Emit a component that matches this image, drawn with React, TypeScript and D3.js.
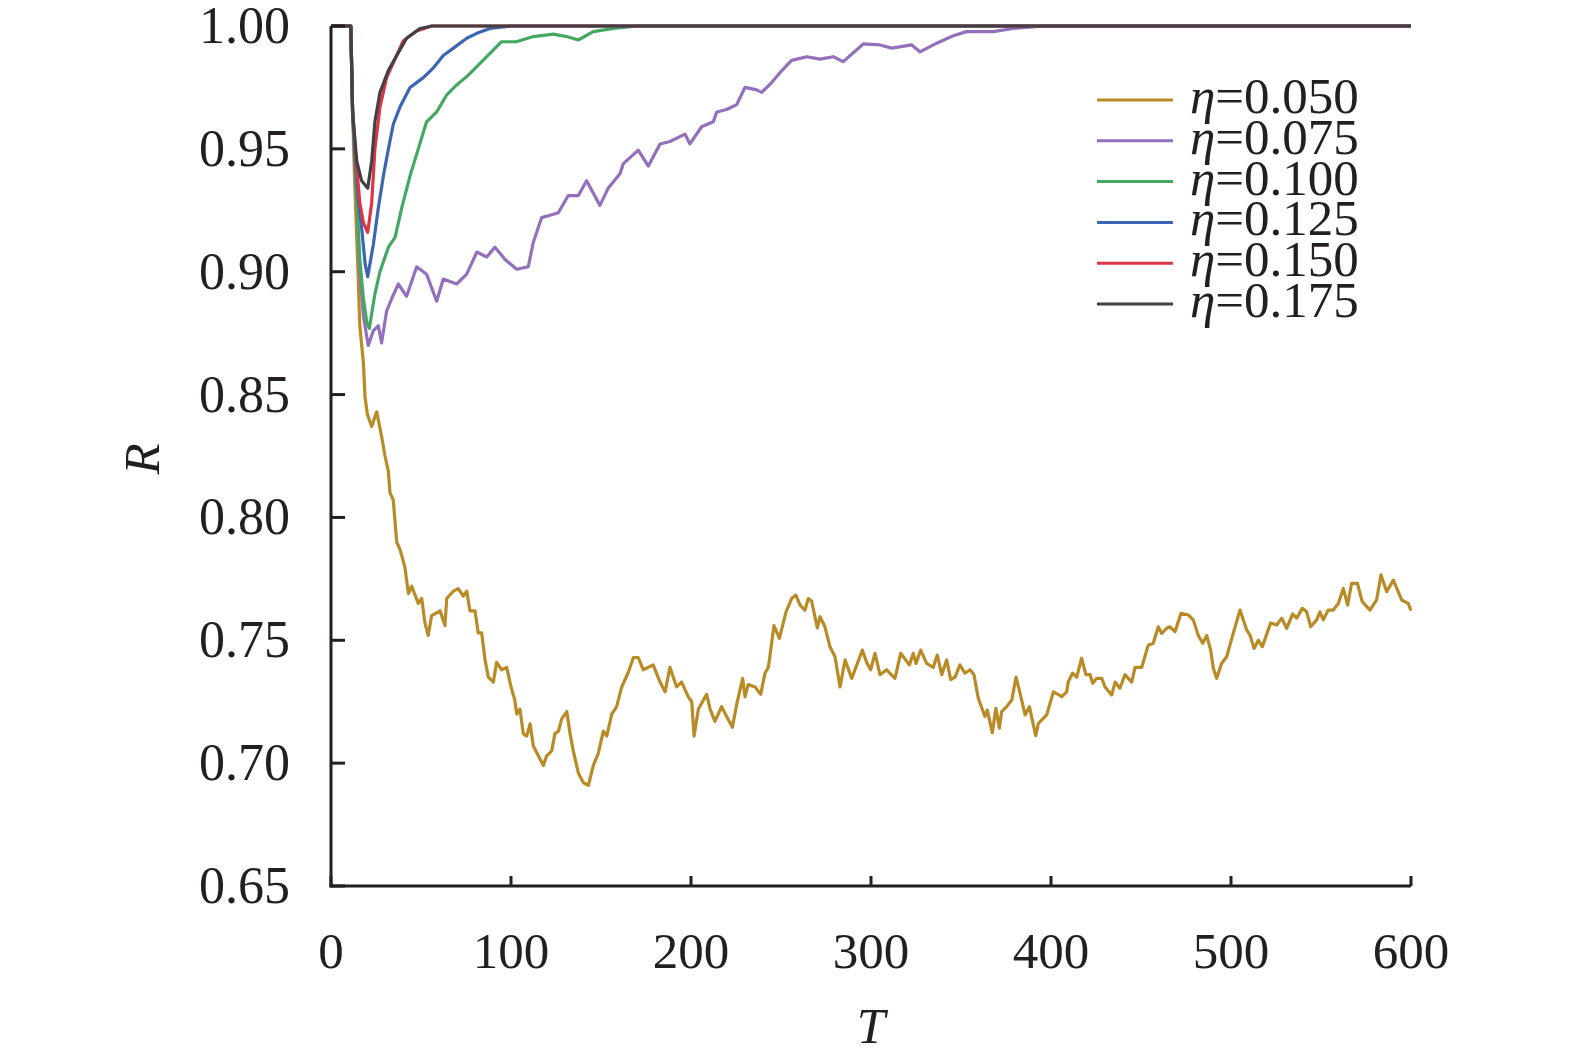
import React from "react";
import * as d3 from "d3";

type Pt = [number, number];

// T, R pairs
const eta050: Pt[] = [
  [0, 1], [11, 1], [12, 0.965], [13, 0.94], [14, 0.92], [15, 0.9], [16, 0.878], [18, 0.863],
  [18.9, 0.849], [20.2, 0.842], [22.6, 0.837], [25.4, 0.843], [28.1, 0.833], [30, 0.825],
  [31.8, 0.819], [32.8, 0.81], [34.6, 0.807], [36.5, 0.79], [38.3, 0.787], [41, 0.78],
  [43, 0.769], [44.8, 0.772], [48.5, 0.765], [50.4, 0.767], [52.2, 0.757], [54, 0.752],
  [55.9, 0.76], [60.6, 0.762], [63.3, 0.756], [64.3, 0.767], [68, 0.77], [70.7, 0.771],
  [73.5, 0.768], [75.4, 0.77], [77.2, 0.762], [80, 0.762], [81.8, 0.753], [83.7, 0.753],
  [85.6, 0.742], [87.4, 0.735], [90.2, 0.733], [92, 0.741], [94.8, 0.738], [97.6, 0.739],
  [99.4, 0.733], [100.4, 0.73], [102, 0.726], [103.2, 0.72], [105, 0.722], [106.8, 0.712],
  [108.7, 0.711], [110.6, 0.716], [112.4, 0.707], [115.2, 0.703], [118, 0.699], [119.8, 0.703],
  [122.6, 0.705], [124.4, 0.712], [126.3, 0.713], [128.2, 0.718], [131, 0.721], [132.8, 0.712],
  [134.6, 0.705], [137.4, 0.696], [140.2, 0.692], [143, 0.691], [145.7, 0.699], [148.5, 0.704],
  [151.3, 0.713], [153.2, 0.711], [156, 0.72], [158.7, 0.723], [161.5, 0.731], [165.2, 0.737],
  [168, 0.743], [170.7, 0.743], [173.5, 0.738], [179, 0.74], [182.8, 0.733], [185.6, 0.729],
  [188.3, 0.739], [192, 0.731], [194.8, 0.733], [198.5, 0.727], [200.4, 0.725], [201.7, 0.711],
  [204.1, 0.722], [208.7, 0.728], [210.6, 0.722], [213.3, 0.717], [217, 0.723], [219.8, 0.719],
  [223, 0.7146], [225.4, 0.724], [228.7, 0.7345], [230, 0.727], [231.8, 0.732], [235.6, 0.731],
  [238.7, 0.728], [241.1, 0.7366], [243, 0.739], [246.1, 0.756], [249.1, 0.7508], [252.8, 0.7616],
  [255.9, 0.767], [258.3, 0.7684], [260.6, 0.7643], [263.3, 0.7623], [265.2, 0.767], [267, 0.766],
  [270.2, 0.755], [271.7, 0.7596], [274.4, 0.7555], [277.2, 0.7474], [280, 0.7433], [282.8, 0.731],
  [285.6, 0.742], [289.3, 0.7345], [291.1, 0.738], [295.2, 0.746], [297.6, 0.741], [299.8, 0.738],
  [302.2, 0.7447], [305, 0.736], [308.7, 0.738], [313.3, 0.7345], [316.5, 0.7447], [321.3, 0.74],
  [323.5, 0.7447], [325, 0.7406], [327.6, 0.746], [330.9, 0.7406], [334.6, 0.739], [336.8, 0.744],
  [339.3, 0.736], [342, 0.742], [344.3, 0.734], [346.7, 0.735], [349.4, 0.74], [352.2, 0.7366],
  [355, 0.738], [357.2, 0.736], [359.6, 0.7264], [363.3, 0.719], [364.6, 0.7216], [367.4, 0.7124],
  [369.4, 0.7223], [371.3, 0.7142], [372.6, 0.721], [375.4, 0.723], [378.2, 0.7257], [380.6, 0.735],
  [382.4, 0.7297], [385.6, 0.7196], [388, 0.723], [391.5, 0.7112], [393, 0.7162], [397.6, 0.7196],
  [401.3, 0.729], [404.6, 0.7277], [405.9, 0.727], [408.7, 0.729], [409.6, 0.7331], [412, 0.7366],
  [414.3, 0.735], [417, 0.7427], [419.4, 0.736], [421.7, 0.736], [423.2, 0.7325], [425.4, 0.7345],
  [428.2, 0.7345], [430, 0.731], [433.7, 0.7277], [435.6, 0.733], [438.3, 0.7305], [441.1, 0.736],
  [444.8, 0.733], [446.7, 0.739], [450.4, 0.739], [454, 0.748], [456.8, 0.7488], [459.6, 0.7555],
  [461.5, 0.7528], [464.3, 0.7549], [466.1, 0.7555], [468.9, 0.7535], [472.2, 0.761], [476.3, 0.7603],
  [479.1, 0.7582], [481.8, 0.752], [484.3, 0.7488], [486.5, 0.752], [488.7, 0.746], [490.2, 0.7386],
  [492, 0.7345], [494.8, 0.7406], [497.6, 0.7433], [500.9, 0.752], [505, 0.7623], [508.7, 0.7542],
  [510.6, 0.752], [512.8, 0.7467], [515.2, 0.75], [517.4, 0.7474], [522, 0.757], [525.4, 0.7562],
  [528.2, 0.759], [530.9, 0.7549], [534.3, 0.7607], [536.5, 0.759], [539.6, 0.763], [542, 0.7616],
  [544.3, 0.7555], [547.6, 0.7583], [549.4, 0.7616], [551.3, 0.7583], [554, 0.7623], [556.8, 0.7623],
  [559.6, 0.765], [562.4, 0.7711], [564.8, 0.7643], [567, 0.7732], [570.2, 0.7732], [572.9, 0.7657],
  [577.2, 0.7623], [580.9, 0.7664], [583.3, 0.7766], [586.5, 0.7698], [590.2, 0.7745], [594.8, 0.7664],
  [598.5, 0.765], [600, 0.762],
];

const eta075: Pt[] = [
  [0, 1], [11, 1], [12, 0.965], [14, 0.935], [16, 0.9], [18, 0.882], [20.7, 0.87], [23.5, 0.876],
  [26.3, 0.878], [28.1, 0.871], [30.9, 0.884], [33.7, 0.889], [37.4, 0.895], [42, 0.89],
  [47.6, 0.902], [53.1, 0.899], [58.7, 0.888], [62.4, 0.897], [69.8, 0.895], [75.4, 0.899],
  [81, 0.908], [86.5, 0.906], [91.1, 0.91], [96.7, 0.905], [103.2, 0.901], [109.6, 0.902],
  [112.4, 0.912], [117, 0.922], [121.7, 0.923], [126.3, 0.924], [131.8, 0.931], [137.4, 0.931],
  [142, 0.937], [149.4, 0.927], [154, 0.934], [160.6, 0.94], [162.4, 0.944], [170.7, 0.9495],
  [176.3, 0.943], [182.8, 0.952], [188.3, 0.953], [196.7, 0.956], [199.4, 0.952], [205.9, 0.959],
  [212.4, 0.961], [214.3, 0.965], [219.8, 0.966], [225.4, 0.968], [230, 0.975], [236.5, 0.974],
  [239.3, 0.973], [244.8, 0.977], [249.4, 0.981], [255.9, 0.986], [264.3, 0.9875], [271.7, 0.9865],
  [279.1, 0.9875], [284.6, 0.9855], [295.7, 0.9927], [305, 0.9923], [311.5, 0.991], [322.6, 0.9923],
  [327.2, 0.9895], [336.5, 0.993], [345.7, 0.996], [353.1, 0.9977], [367.9, 0.9977], [379, 0.999],
  [388, 0.9995], [395, 1], [600, 1],
];

const eta100: Pt[] = [
  [0, 1], [11, 1], [12, 0.965], [14, 0.935], [16, 0.905], [18, 0.889], [20, 0.879], [21.3, 0.877],
  [24.4, 0.891], [27.2, 0.9], [31.9, 0.91], [35.6, 0.914], [39.3, 0.926], [43.9, 0.939],
  [48.5, 0.95], [53.1, 0.961], [58.7, 0.965], [64.3, 0.972], [69.8, 0.976], [76.3, 0.98],
  [86.5, 0.9875], [94.8, 0.9936], [103, 0.9936], [112.4, 0.9957], [123.5, 0.9967], [131, 0.9957],
  [137.4, 0.9943], [145.7, 0.9977], [156.9, 0.999], [170, 1], [600, 1],
];

const eta125: Pt[] = [
  [0, 1], [11, 1], [12, 0.965], [14, 0.94], [15, 0.93], [17, 0.918], [19, 0.903], [20.4, 0.898],
  [23.5, 0.911], [26.3, 0.926], [29.1, 0.939], [31.9, 0.95], [34.6, 0.96], [38.3, 0.967],
  [43.9, 0.975], [51.3, 0.979], [56.9, 0.983], [62.4, 0.988], [68, 0.991], [75.4, 0.995],
  [81, 0.997], [88.3, 0.999], [100, 1], [600, 1],
];

const eta150: Pt[] = [
  [0, 1], [11, 1], [12, 0.965], [14, 0.945], [16, 0.928], [18, 0.92], [20.4, 0.916], [22.6, 0.928],
  [24.4, 0.95], [27.2, 0.967], [30.9, 0.979], [34.6, 0.985], [40.2, 0.994], [47.6, 0.998],
  [56, 1], [600, 1],
];

const eta175: Pt[] = [
  [0, 1], [11, 1], [12, 0.965], [14.3, 0.945], [17, 0.937], [20.4, 0.934], [22.6, 0.945],
  [24.4, 0.961], [27.2, 0.973], [31.9, 0.982], [36.5, 0.988], [42, 0.995], [49.4, 0.999],
  [56, 1], [600, 1],
];

const seriesNames = ["η=0.050", "η=0.075", "η=0.100", "η=0.125", "η=0.150", "η=0.175"];
const seriesData = [eta050, eta075, eta100, eta125, eta150, eta175];
const seriesColors = ["#b98b27", "#9470bc", "#45a860", "#3a66b4", "#dc3545", "#414042"];

const xTicks = [0, 100, 200, 300, 400, 500, 600];
const yTicks = [0.65, 0.7, 0.75, 0.8, 0.85, 0.9, 0.95, 1.0];

const W = 1575;
const H = 1061;
const FONT = "'Liberation Serif', 'Times New Roman', serif";
const AXIS = "#231f20";

export default function App() {
  const x = d3.scaleLinear().domain([0, 600]).range([331, 1411]);
  const y = d3.scaleLinear().domain([0.65, 1]).range([886, 26]);
  const line = d3
    .line<Pt>()
    .x((d) => x(d[0]))
    .y((d) => y(d[1]));

  const legX = 1097;
  const legY0 = 100;
  const legStep = 40.8;

  return (
    <div style={{ position: "absolute", left: 0, top: 0 }}>
      <svg width={W} height={H} style={{ display: "block", background: "#fff" }}>
        {/* data lines */}
        {seriesData.map((d, i) => (
          <path
            key={i}
            d={line(d) ?? ""}
            fill="none"
            stroke={seriesColors[i]}
            strokeWidth={3.2}
            strokeLinejoin="round"
          />
        ))}

        {/* axes */}
        <line x1={x(0)} x2={x(0)} y1={y(1)} y2={y(0.65) + 1.5} stroke={AXIS} strokeWidth={3} />
        <line x1={x(0) - 1.5} x2={x(600)} y1={y(0.65)} y2={y(0.65)} stroke={AXIS} strokeWidth={3} />
        {yTicks.map((t) => (
          <g key={t}>
            <line x1={x(0)} x2={x(0) + 14} y1={y(t)} y2={y(t)} stroke={AXIS} strokeWidth={3} />
            <text
              x={290}
              y={y(t) + 17}
              textAnchor="end"
              fontFamily={FONT}
              fontSize={52}
              fill={AXIS}
            >
              {t.toFixed(2)}
            </text>
          </g>
        ))}
        {xTicks.map((t) => (
          <g key={t}>
            <line x1={x(t)} x2={x(t)} y1={y(0.65)} y2={y(0.65) - 10} stroke={AXIS} strokeWidth={3} />
            <text
              x={x(t)}
              y={968}
              textAnchor="middle"
              fontFamily={FONT}
              fontSize={51}
              fill={AXIS}
            >
              {t}
            </text>
          </g>
        ))}

        {/* axis titles */}
        <text
          x={871}
          y={1043}
          textAnchor="middle"
          fontFamily={FONT}
          fontStyle="italic"
          fontSize={51}
          fill={AXIS}
        >
          T
        </text>
        <text
          transform="translate(159,459) rotate(-90)"
          textAnchor="middle"
          fontFamily={FONT}
          fontStyle="italic"
          fontSize={51}
          fill={AXIS}
        >
          R
        </text>

        {/* legend */}
        {seriesNames.map((name, i) => (
          <g key={name} transform={`translate(0,${legY0 + i * legStep})`}>
            <line x1={legX} x2={legX + 76} y1={0} y2={0} stroke={seriesColors[i]} strokeWidth={3} />
            <text x={legX + 93} y={13} fontFamily={FONT} fontSize={51} fill={AXIS}>
              <tspan fontStyle="italic">η</tspan>
              {name.slice(1)}
            </text>
          </g>
        ))}
      </svg>
    </div>
  );
}
